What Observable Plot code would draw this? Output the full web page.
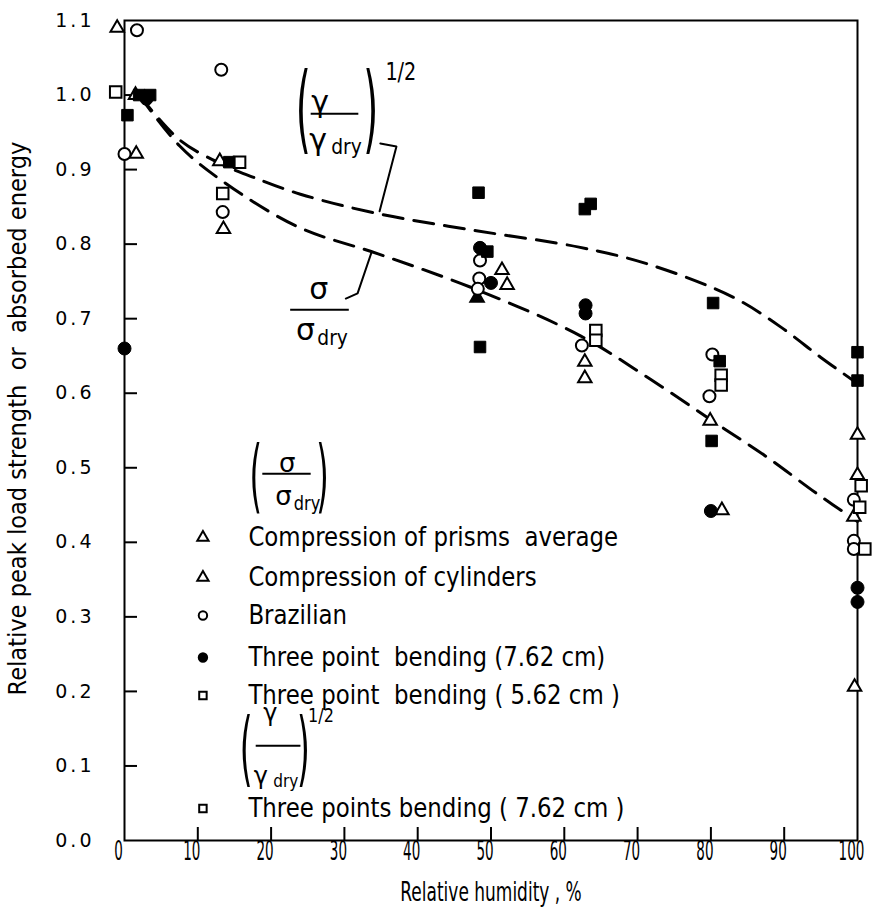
<!DOCTYPE html>
<html><head><meta charset="utf-8">
<script src="https://cdn.jsdelivr.net/npm/d3@7"></script>
<script src="https://cdn.jsdelivr.net/npm/@observablehq/plot@0.6"></script>
<style>
body{margin:0;background:#fff}
text[aria-label="ylabels"]{letter-spacing:3px}
</style>
</head><body><div id="chart"></div>
<script>
const FONT = '"DejaVu Sans",sans-serif';

// axis ticks
const xTicks = [0,10,20,30,40,50,60,70,80,90,100];
const yTicks = [0,0.1,0.2,0.3,0.4,0.5,0.6,0.7,0.8,0.9,1.0,1.1];

// (sigma/sigma_dry) series: [relative humidity %, relative value]
const prisms = [[-1,1.09],[13,0.911],[51.5,0.765],[62.8,0.642],[79.9,0.563],[100,0.49]];
const cylinders = [[1.6,0.921],[1.5,1.0],[13.5,0.82],[52.2,0.745],[62.8,0.62],[81.5,0.443],[100,0.544],[99.5,0.434],[99.6,0.206]];
const prismsFilled = [[48.1,0.728]];
const brazilian = [[1.7,1.087],[13.2,1.034],[0,0.921],[13.4,0.843],[48.5,0.778],[48.4,0.754],[48.2,0.74],[62.4,0.664],[80.2,0.652],[79.8,0.596],[99.5,0.457],[99.5,0.402],[99.5,0.391]];
const bending762 = [[0,0.66],[3,0.995],[48.5,0.795],[50,0.748],[62.9,0.718],[62.9,0.707],[80,0.442],[100,0.339],[100,0.32]];
const bending562 = [[-1.2,1.004],[15.7,0.91],[13.4,0.868],[64.3,0.684],[64.3,0.671],[81.4,0.624],[81.4,0.611],[100.5,0.476],[100.3,0.447],[101,0.391]];
// (gamma/gamma_dry)^1/2 series
const gammaBending = [[2,1.0],[3.5,1.0],[0.4,0.973],[14.3,0.91],[48.3,0.869],[49.5,0.79],[48.5,0.662],[62.8,0.847],[63.6,0.854],[80.3,0.721],[81.2,0.643],[80.1,0.536],[100,0.655],[100,0.617]];

// fitted dashed curves
const gammaCurve = [[2,1.0],[7.5,0.94],[13.3,0.907],[17.5,0.89],[24,0.867],[34.5,0.841],[48,0.818],[62,0.796],[71.5,0.773],[83,0.729],[89.5,0.689],[95,0.648],[100,0.613]];
const sigmaCurve = [[2,1.0],[7.5,0.932],[13.3,0.885],[23.7,0.823],[34.6,0.787],[48.3,0.738],[62.2,0.677],[71.7,0.619],[80.8,0.559],[87.7,0.514],[94.5,0.465],[100,0.428]];

// legend
const legendRows = [
  {sym:"triangle", fill:"none", y:0.4065, label:"Compression of prisms  average"},
  {sym:"triangle", fill:"none", y:0.3528, label:"Compression of cylinders"},
  {sym:"circle", fill:"none", y:0.3018, label:"Brazilian"},
  {sym:"circle", fill:"black", y:0.2455, label:"Three point  bending (7.62 cm)"},
  {sym:"square", fill:"none", y:0.1945, label:"Three point  bending ( 5.62 cm )"},
  {sym:"square", fill:"none", y:0.0429, label:"Three points bending ( 7.62 cm )"}
];
const legendSymX = 10.7, legendTextX = 16.9;

// annotation glyphs: [x, y, text, size]
const annoBig = [
  [26.7,0.990,"γ",30],[26.4,0.939,"γ",30],[26.5,0.739,"σ",30],[24.7,0.684,"σ",30],
  [22.2,0.506,"σ",26],[21.7,0.461,"σ",26],[19.9,0.170,"γ",24],[18.6,0.086,"γ",24]
];
const annoSub = [
  [28.2,0.930,"dry",22],[26.3,0.674,"dry",22],[23.1,0.452,"dry",19],[20.3,0.080,"dry",18]
];
const annoPow = [[37.7,1.030,"1/2",24],[26.8,0.168,"1/2",20]];
const parens = [
  [24.4,0.979,"(",96],[33.6,0.979,")",96],
  [17.9,0.487,"(",80],[27.0,0.487,")",80],
  [16.6,0.122,"(",82],[24.4,0.122,")",82]
];
const fractionBars = [
  [25.4,31.9,0.975],[22.6,30.6,0.712],[18.8,25.4,0.492],[17.9,24.0,0.127]
];
const gammaLeader = [[34.9,0.935],[37.1,0.931],[34.8,0.844]];
const sigmaLeader = [[30.2,0.727],[31.8,0.734],[33.7,0.789]];

// horizontal condensing of the narrow lettering
const condense = {xticklabels:0.52, xlabel:0.63, ylabel:0.94, legend:0.88, sub:0.85, pow:0.8, parens:0.4};
const tag = name => () => name;

const X = d => d[0], Y = d => d[1];
const W = 872, H = 920, mL = 124, mR = 15, mT = 20, mB = 80;
const innerW = W - mL - mR, innerH = H - mT - mB;

const plot = Plot.plot({
  width: W, height: H,
  marginLeft: mL, marginRight: mR, marginTop: mT, marginBottom: mB,
  x: {domain:[0,100], axis:null},
  y: {domain:[0,1.1], axis:null},
  style: {background:"#fff", color:"#000", fontFamily: FONT},
  marks: [
    Plot.frame({stroke:"#000", strokeWidth:2}),
    Plot.tickX(xTicks.slice(1,-1), {x:d=>d, stroke:"#000", strokeWidth:2, insetTop: innerH-13}),
    Plot.tickY(yTicks.slice(1,-1), {y:d=>d, stroke:"#000", strokeWidth:2, insetRight: innerW-13}),
    Plot.text(xTicks, {x:d=>d, frameAnchor:"bottom", dx:-6, dy:19, text:d=>String(d), fontSize:26, ariaLabel:tag("xticklabels")}),
    Plot.text(yTicks, {y:d=>d, frameAnchor:"left", dx:-30, textAnchor:"end", text:d=>d.toFixed(1), fontSize:19, ariaLabel:tag("ylabels")}),
    Plot.text(["Relative humidity , %"], {frameAnchor:"bottom", dy:60, fontSize:27, ariaLabel:tag("xlabel")}),
    Plot.text(["Relative peak load strength  or  absorbed energy"], {frameAnchor:"left", y:()=>0.566, dx:-106, rotate:-90, textAnchor:"middle", fontSize:24, ariaLabel:tag("ylabel")}),

    Plot.line(gammaCurve, {x:X, y:Y, curve:"catmull-rom", stroke:"#000", strokeWidth:3, strokeDasharray:"20,11"}),
    Plot.line(sigmaCurve, {x:X, y:Y, curve:"catmull-rom", stroke:"#000", strokeWidth:3, strokeDasharray:"20,11"}),
    Plot.line(gammaLeader, {x:X, y:Y, stroke:"#000", strokeWidth:2}),
    Plot.line(sigmaLeader, {x:X, y:Y, stroke:"#000", strokeWidth:2}),

    Plot.dot(prisms, {x:X, y:Y, symbol:"triangle", r:5, stroke:"#000", strokeWidth:2, fill:"#fff"}),
    Plot.dot(cylinders, {x:X, y:Y, symbol:"triangle", r:5, stroke:"#000", strokeWidth:2, fill:"#fff"}),
    Plot.dot(prismsFilled, {x:X, y:Y, symbol:"triangle", r:5, stroke:"#000", strokeWidth:2, fill:"#000"}),
    Plot.dot(brazilian, {x:X, y:Y, symbol:"circle", r:6, stroke:"#000", strokeWidth:2, fill:"#fff"}),
    Plot.dot(bending562, {x:X, y:Y, symbol:"square", r:6.5, stroke:"#000", strokeWidth:2, fill:"#fff"}),
    Plot.dot(bending762, {x:X, y:Y, symbol:"circle", r:6.5, stroke:"#000", strokeWidth:1, fill:"#000"}),
    Plot.dot(gammaBending, {x:X, y:Y, symbol:"square", r:6.5, stroke:"#000", strokeWidth:1, fill:"#000"}),

    Plot.text(annoBig, {x:X, y:Y, text:d=>d[2], fontSize:d=>d[3]}),
    Plot.text(annoSub, {x:X, y:Y, text:d=>d[2], fontSize:d=>d[3], textAnchor:"start", ariaLabel:tag("sub")}),
    Plot.text(annoPow, {x:X, y:Y, text:d=>d[2], fontSize:d=>d[3], ariaLabel:tag("pow")}),
    Plot.text(parens, {x:X, y:Y, text:d=>d[2], fontSize:d=>d[3], ariaLabel:tag("parens")}),
    Plot.link(fractionBars, {x1:d=>d[0], x2:d=>d[1], y1:d=>d[2], y2:d=>d[2], stroke:"#000", strokeWidth:2}),

    Plot.dot(legendRows, {x:()=>legendSymX, y:d=>d.y, symbol:d=>d.sym, r:4.2, stroke:"#000", strokeWidth:2, fill:d=>d.fill}),
    Plot.text(legendRows, {x:()=>legendTextX, y:d=>d.y, text:d=>d.label, textAnchor:"start", fontSize:26, ariaLabel:tag("legend")})
  ]
});
document.getElementById("chart").appendChild(plot);

// condense selected texts horizontally while keeping them as real text
for (const [name, f] of Object.entries(condense)) {
  plot.querySelectorAll(`text[aria-label="${name}"]`).forEach(t => {
    const len = t.getComputedTextLength();
    if (len > 0) {
      t.setAttribute("textLength", (len * f).toFixed(1));
      t.setAttribute("lengthAdjust", "spacingAndGlyphs");
    }
  });
}
</script>
</body></html>
